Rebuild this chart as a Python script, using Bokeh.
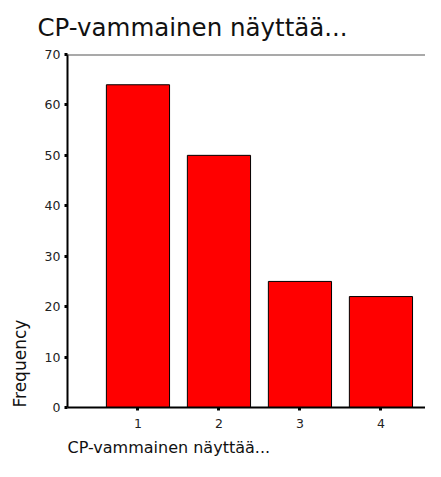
from bokeh.plotting import figure
from bokeh.models import Range1d, FixedTicker, Span, ColumnDataSource, Title
from bokeh.embed import file_html
from bokeh.resources import INLINE

# ---- data ----
categories = ["1", "2", "3", "4"]
positions = [1, 2, 3, 4]
frequencies = [64, 50, 25, 22]
y_ticks = [0, 10, 20, 30, 40, 50, 60, 70]
title_text = "CP-vammainen näyttää..."
x_label_text = "CP-vammainen näyttää..."
y_label_text = "Frequency"

X_START, X_END = 0.13, 4.55
Y_MIN, Y_MAX = 0, 70
FONT = "DejaVu Sans"

p = figure(width=425, height=461, output_backend="svg", toolbar_location=None,
           x_range=Range1d(X_START, X_END), y_range=Range1d(Y_MIN, Y_MAX),
           min_border_left=67, min_border_right=0, min_border_top=54, min_border_bottom=54)
p.title.visible = False
p.outline_line_color = None
p.xgrid.visible = False
p.ygrid.visible = False
p.background_fill_color = "white"
p.border_fill_color = "white"

src = ColumnDataSource(dict(x=positions, top=frequencies))
p.vbar(x="x", top="top", width=0.78, bottom=0, source=src,
       fill_color="#FF0000", line_color="black", line_width=1)

# axes
for ax in (p.xaxis[0], p.yaxis[0]):
    ax.axis_line_color = "black"
    ax.axis_line_width = 2
    ax.major_tick_line_color = "black"
    ax.major_tick_line_width = 3
    ax.major_tick_out = 3
    ax.major_tick_in = 0
    ax.minor_tick_line_color = None
    ax.major_label_text_font = FONT
    ax.major_label_text_font_size = "12.5px"
    ax.major_label_text_color = "#222222"

p.xaxis.ticker = FixedTicker(ticks=positions)
p.xaxis.major_label_overrides = {pos: c for pos, c in zip(positions, categories)}
p.xaxis.major_label_standoff = 8
p.yaxis.ticker = FixedTicker(ticks=y_ticks)
p.yaxis.major_label_standoff = 4

# top frame line
p.add_layout(Span(location=Y_MAX, dimension="width", line_color="#555555", line_width=2))

# texts
p.add_layout(Title(text=title_text, align="left", vertical_align="top", offset=-30, standoff=22,
                   text_font=FONT, text_font_size="24.5px", text_font_style="normal",
                   text_color="#111111"), "above")
p.add_layout(Title(text=x_label_text, align="left", vertical_align="bottom", offset=0, standoff=10,
                   text_font=FONT, text_font_size="16px", text_font_style="normal",
                   text_color="#111111"), "below")
p.add_layout(Title(text=y_label_text, align="left", vertical_align="top", offset=0, standoff=19,
                   text_font=FONT, text_font_size="17px", text_font_style="normal",
                   text_color="#111111"), "left")

open("out.html", "w").write(file_html(p, INLINE))
